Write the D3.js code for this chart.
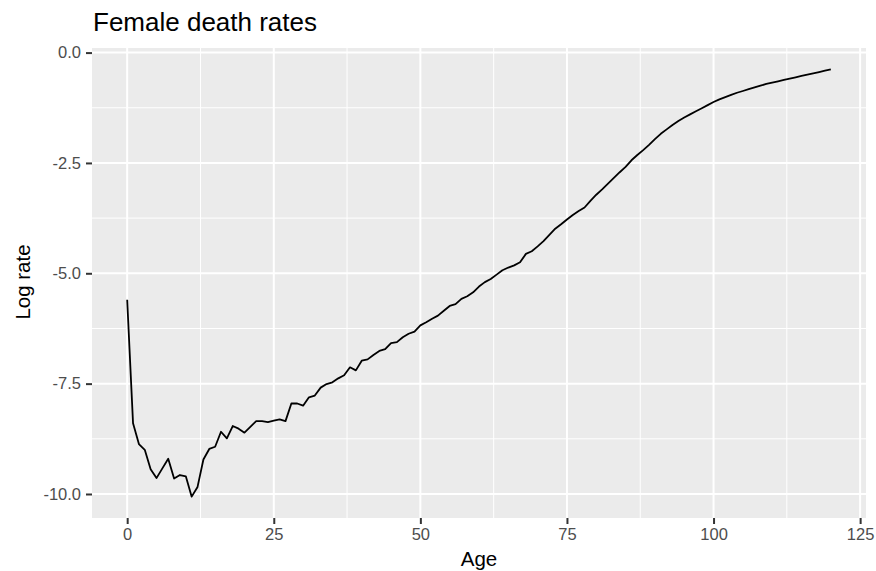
<!DOCTYPE html>
<html>
<head>
<meta charset="utf-8">
<script src="https://cdn.jsdelivr.net/npm/d3@7"></script>
<style>
  html, body { margin: 0; padding: 0; background: #ffffff; }
  svg { display: block; font-family: "Liberation Sans", Arial, Helvetica, sans-serif; }
</style>
</head>
<body>
<svg id="chart" width="876" height="571"></svg>
<script>
// ---- Data ----
const ages = d3.range(0, 121);
const logRates = [
  -5.60, -8.40, -8.87, -9.00, -9.44, -9.64, -9.42, -9.20, -9.65, -9.57,
  -9.60, -10.06, -9.84, -9.22, -8.98, -8.93, -8.59, -8.74, -8.46, -8.52,
  -8.61, -8.48, -8.35, -8.35, -8.37, -8.34, -8.31, -8.35, -7.95, -7.95,
  -8.00, -7.81, -7.77, -7.59, -7.51, -7.47, -7.38, -7.31, -7.13, -7.20,
  -6.98, -6.95, -6.85, -6.76, -6.72, -6.58, -6.56, -6.45, -6.37, -6.32,
  -6.18, -6.11, -6.03, -5.96, -5.85, -5.74, -5.70, -5.58, -5.52, -5.43,
  -5.30, -5.20, -5.13, -5.03, -4.93, -4.87, -4.82, -4.75, -4.56, -4.50,
  -4.39, -4.27, -4.13, -3.99, -3.89, -3.78, -3.68, -3.59, -3.51, -3.36,
  -3.22, -3.10, -2.97, -2.84, -2.71, -2.59, -2.44, -2.32, -2.21, -2.09,
  -1.96, -1.84, -1.74, -1.64, -1.55, -1.47, -1.40, -1.33, -1.26, -1.19,
  -1.12, -1.06, -1.01, -0.96, -0.91, -0.87, -0.83, -0.79, -0.75, -0.71,
  -0.68, -0.65, -0.62, -0.59, -0.56, -0.53, -0.50, -0.47, -0.44, -0.41,
  -0.38
];
const xTicks = [0, 25, 50, 75, 100, 125];
const xMinor = [12.5, 37.5, 62.5, 87.5, 112.5];
const yTicks = [0, -2.5, -5, -7.5, -10];
const yMinor = [-1.25, -3.75, -6.25, -8.75];
const titleText = "Female death rates";
const xLabel = "Age";
const yLabel = "Log rate";

// ---- Layout ----
const W = 876, H = 571;
const panel = { left: 92, top: 48, right: 866, bottom: 518 };

const svg = d3.select("#chart");

const data = ages.map((a, i) => ({ age: a, v: logRates[i] }));

const xExt = d3.extent(ages);
const xPad = (xExt[1] - xExt[0]) * 0.05;
const yExt = d3.extent(logRates);
const yPad = (yExt[1] - yExt[0]) * 0.05;

const x = d3.scaleLinear()
  .domain([xExt[0] - xPad, xExt[1] + xPad])
  .range([panel.left, panel.right]);
const y = d3.scaleLinear()
  .domain([yExt[0] - yPad, yExt[1] + yPad])
  .range([panel.bottom, panel.top]);

// Panel background
svg.append("rect")
  .attr("x", panel.left).attr("y", panel.top)
  .attr("width", panel.right - panel.left)
  .attr("height", panel.bottom - panel.top)
  .attr("fill", "#EBEBEB");

const grid = svg.append("g");
// minor grid
grid.selectAll(".vminor").data(xMinor).join("line")
  .attr("x1", d => x(d)).attr("x2", d => x(d))
  .attr("y1", panel.top).attr("y2", panel.bottom)
  .attr("stroke", "#ffffff").attr("stroke-width", 1);
grid.selectAll(".hminor").data(yMinor).join("line")
  .attr("x1", panel.left).attr("x2", panel.right)
  .attr("y1", d => y(d)).attr("y2", d => y(d))
  .attr("stroke", "#ffffff").attr("stroke-width", 1);
// major grid
grid.selectAll(".vmajor").data(xTicks).join("line")
  .attr("x1", d => x(d)).attr("x2", d => x(d))
  .attr("y1", panel.top).attr("y2", panel.bottom)
  .attr("stroke", "#ffffff").attr("stroke-width", 2);
grid.selectAll(".hmajor").data(yTicks).join("line")
  .attr("x1", panel.left).attr("x2", panel.right)
  .attr("y1", d => y(d)).attr("y2", d => y(d))
  .attr("stroke", "#ffffff").attr("stroke-width", 2);

// Line
const line = d3.line().x(d => x(d.age)).y(d => y(d.v));
svg.append("path")
  .datum(data)
  .attr("d", line)
  .attr("fill", "none")
  .attr("stroke", "#000000")
  .attr("stroke-width", 1.8)
  .attr("stroke-linejoin", "round");

// Axes
const xAxis = d3.axisBottom(x).tickValues(xTicks).tickSize(6).tickPadding(4)
  .tickFormat(d3.format("d"));
const gx = svg.append("g")
  .attr("transform", `translate(0,${panel.bottom})`)
  .call(xAxis);
gx.select(".domain").remove();
gx.selectAll(".tick line").attr("stroke", "#333333").attr("stroke-width", 2);
gx.selectAll(".tick text").attr("fill", "#4D4D4D").attr("font-size", 16.5)
  .attr("font-family", "Liberation Sans, Arial, sans-serif");

const yAxis = d3.axisLeft(y).tickValues(yTicks).tickSize(6).tickPadding(5)
  .tickFormat(d3.format(".1f"));
const gy = svg.append("g")
  .attr("transform", `translate(${panel.left},0)`)
  .call(yAxis);
gy.select(".domain").remove();
gy.selectAll(".tick line").attr("stroke", "#333333").attr("stroke-width", 2);
gy.selectAll(".tick text").attr("fill", "#4D4D4D").attr("font-size", 16.5)
  .attr("font-family", "Liberation Sans, Arial, sans-serif")
  .text(d => d3.format(".1f")(d).replace("−", "-"));

// Title
svg.append("text")
  .attr("x", panel.left + 1).attr("y", 31)
  .attr("font-size", 26)
  .attr("fill", "#000000")
  .text(titleText);

// Axis titles
svg.append("text")
  .attr("x", (panel.left + panel.right) / 2).attr("y", 566)
  .attr("text-anchor", "middle")
  .attr("font-size", 20.5)
  .attr("fill", "#000000")
  .text(xLabel);

svg.append("text")
  .attr("transform", `translate(30,${(panel.top + panel.bottom) / 2 - 1}) rotate(-90)`)
  .attr("text-anchor", "middle")
  .attr("font-size", 20.5)
  .attr("fill", "#000000")
  .text(yLabel);
</script>
</body>
</html>
